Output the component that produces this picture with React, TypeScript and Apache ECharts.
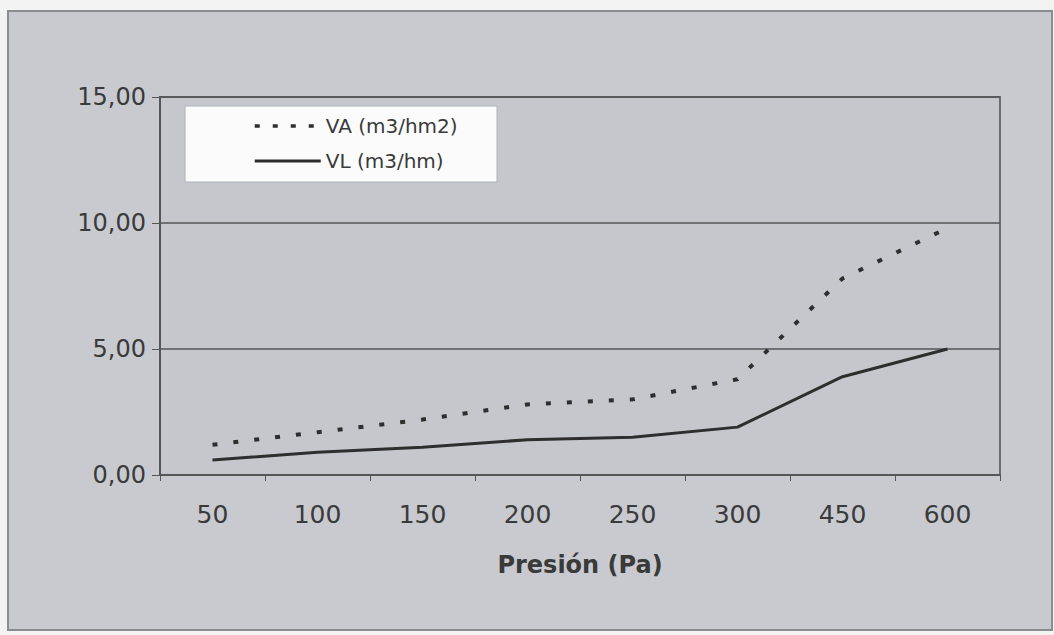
import React, { useEffect, useRef } from "react";
import * as echarts from "echarts";

const categories = ["50", "100", "150", "200", "250", "300", "450", "600"];
const vaValues = [1.2, 1.7, 2.2, 2.8, 3.0, 3.8, 7.8, 9.8];
const vlValues = [0.6, 0.9, 1.1, 1.4, 1.5, 1.9, 3.9, 5.0];
const seriesNames = ["VA (m3/hm2)", "VL (m3/hm)"];
const yMin = 0;
const yMax = 15;
const yStep = 5;

const FONT = "'DejaVu Sans', 'Liberation Sans', Arial, sans-serif";
const TEXT = "#3a3a3a";

export default function App() {
  const ref = useRef<HTMLDivElement>(null);
  useEffect(() => {
    if (!ref.current) return;
    const chart = echarts.init(ref.current, undefined, { renderer: "svg" });
    chart.setOption({
      animation: false,
      backgroundColor: "#f3f3f3",
      textStyle: { fontFamily: FONT },
      graphic: [
        {
          type: "rect",
          shape: { x: 8, y: 11, width: 1044, height: 619 },
          style: { fill: "#c8cad0", stroke: "#8a8c90", lineWidth: 2 },
          z: -10,
        },
        {
          type: "rect",
          shape: { x: 185, y: 106, width: 312, height: 76 },
          style: { fill: "#fbfbfb", stroke: "#b0b2b6", lineWidth: 1 },
          z: 5,
        },
      ],
      grid: {
        left: 160,
        right: 54,
        top: 97,
        bottom: 160,
        show: true,
        backgroundColor: "#c5c7cd",
        borderColor: "#6a6c70",
        borderWidth: 2,
      },
      legend: {
        data: [
          { name: seriesNames[0], lineStyle: { width: 3.5, type: [5, 13], color: "#2e2e2e" } },
          { name: seriesNames[1], lineStyle: { width: 3, color: "#2e2e2e" } },
        ],
        orient: "vertical",
        left: 253,
        top: 116,
        padding: 0,
        itemGap: 15,
        itemWidth: 66,
        itemHeight: 20,
        itemStyle: { opacity: 0 },
        textStyle: { fontSize: 20, lineHeight: 20, color: TEXT, fontFamily: FONT },
        z: 10,
      },
      xAxis: {
        type: "category",
        data: categories,
        boundaryGap: true,
        axisLine: { lineStyle: { color: "#555", width: 2 } },
        axisTick: { show: true, length: 6, lineStyle: { color: "#555" } },
        axisLabel: { fontSize: 25, color: TEXT, margin: 27, fontFamily: FONT },
        name: "Presión (Pa)",
        nameLocation: "middle",
        nameGap: 78,
        nameTextStyle: { fontSize: 24, fontWeight: "bold", color: TEXT, fontFamily: FONT },
      },
      yAxis: {
        type: "value",
        min: yMin,
        max: yMax,
        interval: yStep,
        axisLine: { show: true, lineStyle: { color: "#555", width: 2 } },
        axisTick: { show: true, length: 8, lineStyle: { color: "#555" } },
        axisLabel: {
          fontSize: 24,
          color: TEXT,
          margin: 14,
          fontFamily: FONT,
          formatter: (v: number) => v.toFixed(2).replace(".", ","),
        },
        splitLine: { show: true, lineStyle: { color: "#555", width: 1.5 } },
      },
      series: [
        {
          name: seriesNames[0],
          type: "line",
          data: vaValues,
          symbol: "none",
          lineStyle: { color: "#2e2e2e", width: 4, type: [5, 16] },
          itemStyle: { color: "#2e2e2e" },
        },
        {
          name: seriesNames[1],
          type: "line",
          data: vlValues,
          symbol: "none",
          lineStyle: { color: "#2e2e2e", width: 3 },
          itemStyle: { color: "#2e2e2e" },
        },
      ],
    });
    return () => chart.dispose();
  }, []);
  return (
    <div
      ref={ref}
      style={{ position: "absolute", left: 0, top: 0, width: 1054, height: 635 }}
    />
  );
}
